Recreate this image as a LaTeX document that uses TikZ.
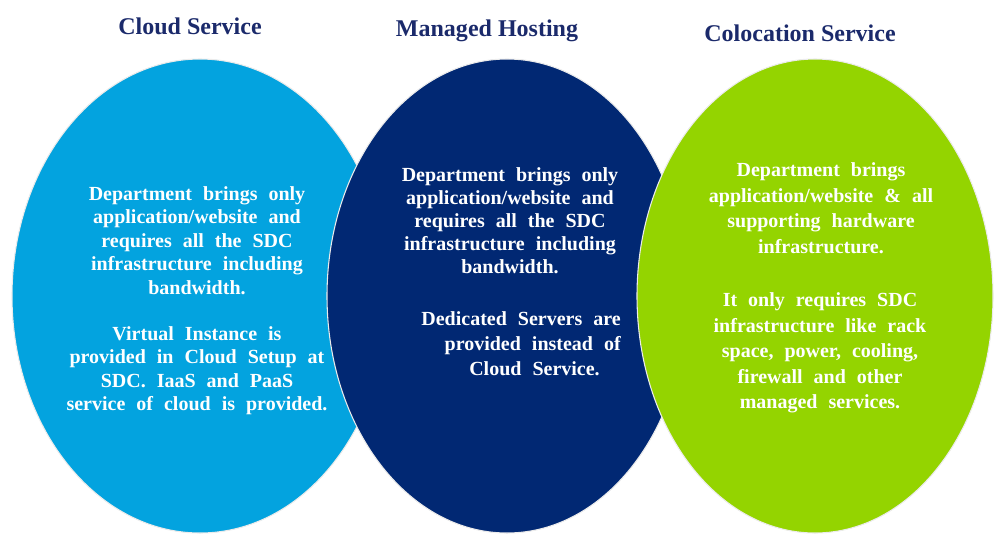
\documentclass[tikz,border=0pt]{standalone}
\usepackage{fontspec}
\setmainfont{Liberation Serif}
\usetikzlibrary{shapes.geometric}
\definecolor{cloudblue}{HTML}{03A3DF}
\definecolor{hostnavy}{HTML}{012873}
\definecolor{cololime}{HTML}{94D400}
\definecolor{titlenavy}{HTML}{1B2A6B}
\newcommand\wordsp{\spaceskip=0.55em\relax}
\newcommand\bodyfnt[1]{\fontsize{15}{#1}\selectfont\bfseries\wordsp}
\tikzset{
  ell/.style={ellipse, draw=white!92!black, line width=0.8pt, inner sep=0pt,
    minimum height=474*0.75pt},
  ttl/.style={anchor=base, inner sep=0pt, text=titlenavy,
    font={\fontsize{18}{21}\selectfont\bfseries}},
  body/.style={anchor=north, inner sep=0pt, text=white, align=center,
    font={\bodyfnt{17.6}}},
}
\begin{document}
\begin{tikzpicture}[x=0.75pt,y=-0.75pt]
\useasboundingbox (0,0) rectangle (994,536);
\node[ell, fill=cloudblue, minimum width=376*0.75pt] (cloud) at (200,296) {};
\node[ell, fill=hostnavy, minimum width=360*0.75pt] (host) at (507,296) {};
\node[ell, fill=cololime, minimum width=356*0.75pt] (colo) at (815,296) {};

\node[ttl] (t1) at (190,34) {Cloud Service};
\node[ttl] (t2) at (487,36) {Managed Hosting};
\node[ttl] (t3) at (800,41) {Colocation Service};

\node[body] (c1) at (197,186) {Department brings only\\application/website and\\requires all the SDC\\infrastructure including\\bandwidth.};
\node[body] (c2) at (197,326) {Virtual Instance is\\provided in Cloud Setup at\\SDC. IaaS and PaaS\\service of cloud is provided.};

\node[body, font={\bodyfnt{17.25}}] (h1) at (510,167.5) {Department brings only\\application/website and\\requires all the SDC\\infrastructure including\\bandwidth.};
\node[body, anchor=north east, align=right, font={\bodyfnt{18.75}}] (h2) at (621,311) {Dedicated Servers are\\provided instead of\\Cloud Service.\hspace*{15.75pt}};

\node[body, font={\bodyfnt{19.1}}] (l1) at (821,162.5) {Department brings\\application/website \& all\\supporting hardware\\infrastructure.};
\node[body, font={\bodyfnt{19.1}}] (l2) at (820,292.5) {It only requires SDC\\infrastructure like rack\\space, power, cooling,\\firewall and other\\managed services.};
\end{tikzpicture}
\end{document}
